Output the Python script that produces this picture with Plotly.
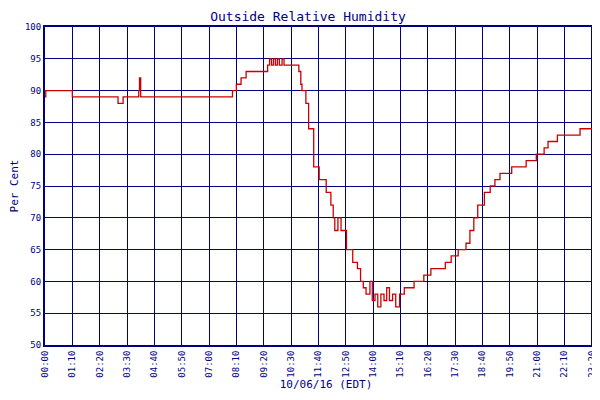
import plotly.graph_objects as go

# minutes since midnight and humidity readings
minutes = [0, 2, 70, 187, 200, 240, 242, 245, 435, 480, 490, 502, 515, 570, 575, 580, 585, 590,
           595, 600, 607, 612, 642, 650, 655, 658, 668, 675, 688, 702, 720, 732, 738, 742, 750,
           758, 772, 788, 800, 808, 815, 822, 832, 838, 845, 852, 860, 868, 875, 882, 890, 898,
           908, 920, 945, 970, 988, 1008, 1025, 1040, 1058, 1078, 1088, 1098, 1108, 1125, 1140,
           1152, 1165, 1195, 1232, 1258, 1278, 1288, 1312, 1370, 1439]
humidity = [89, 90, 89, 88, 89, 90, 92, 89, 89, 90, 91, 92, 93, 94, 95, 94, 95, 94,
            95, 94, 95, 94, 94, 93, 91, 90, 88, 84, 78, 76, 74, 72, 70, 68, 70,
            68, 65, 63, 62, 60, 59, 58, 60, 57, 58, 56, 58, 57, 59, 57, 58, 56,
            58, 59, 60, 61, 62, 62, 63, 64, 65, 66, 68, 70, 72, 74, 75,
            76, 77, 78, 79, 80, 81, 82, 83, 84, 84]

tick_vals = list(range(0, 1440, 70)) + [1439]
tick_text = ["%02d:%02d" % (m // 60, m % 60) for m in tick_vals]

navy = "#000080"
font = dict(family="DejaVu Sans Mono", size=10, color=navy)

fig = go.Figure()
fig.add_trace(go.Scatter(x=minutes, y=humidity, mode="lines", line=dict(color="#cc0000", width=1.3, shape="hv"),
                         name="Relative Humidity"))

fig.update_layout(
    width=600, height=400, margin=dict(l=37, r=1, t=19, b=63, autoexpand=False),
    paper_bgcolor="white", plot_bgcolor="white", font=font,
    title=dict(text="Outside Relative Humidity", x=0.5, y=0.99, yanchor="top", automargin=False,
               font=dict(family="DejaVu Sans Mono", size=13, color=navy)),
    showlegend=True,
    legend=dict(orientation="h", x=0.5, xanchor="center", y=-0.175, yanchor="top", font=dict(size=9)),
)
fig.update_xaxes(range=[0, 1439], tickvals=tick_vals, ticktext=tick_text, tickangle=-90, automargin=False,
                 showgrid=True, gridcolor=navy, gridwidth=1, showline=True, linecolor=navy, linewidth=2,
                 mirror=True, zeroline=False, ticks="", tickfont=dict(size=9),
                 title=dict(text="10/06/16 (EDT)", standoff=4, font=dict(size=11)))
fig.update_yaxes(range=[50, 100], dtick=5, showgrid=True, gridcolor=navy, gridwidth=1, automargin=False,
                 showline=True, linecolor=navy, linewidth=2, mirror=True, zeroline=False, ticks="",
                 tickfont=dict(size=9), title=dict(text="Per Cent", standoff=4, font=dict(size=11)))

fig.write_html("out.html")
